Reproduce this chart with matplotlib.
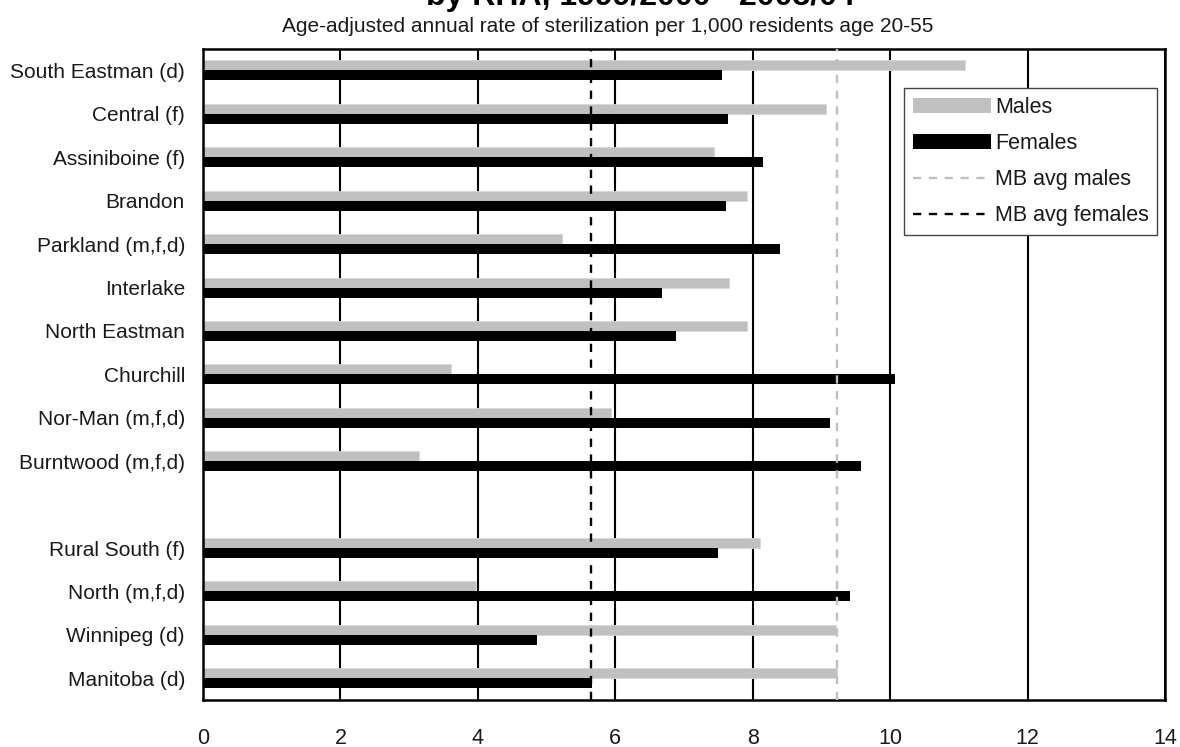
#!/usr/bin/env python3
"""Sterilization rates by RHA - horizontal grouped bar chart."""

import matplotlib
matplotlib.use('Agg')
import matplotlib.pyplot as plt
from matplotlib.patches import Patch
from matplotlib.lines import Line2D
import numpy as np

# Data (rate per 1,000 residents age 20-55); None marks the blank spacer row
regions = ['South Eastman (d)', 'Central (f)', 'Assiniboine (f)', 'Brandon',
           'Parkland (m,f,d)', 'Interlake', 'North Eastman', 'Churchill',
           'Nor-Man (m,f,d)', 'Burntwood (m,f,d)', '',
           'Rural South (f)', 'North (m,f,d)', 'Winnipeg (d)', 'Manitoba (d)']
males = [11.09, 9.07, 7.43, 7.92, 5.22, 7.65, 7.91, 3.61, 5.94, 3.14, None,
         8.10, 3.97, 9.21, 9.23]
females = [7.56, 7.64, 8.15, 7.61, 8.40, 6.68, 6.88, 10.07, 9.12, 9.57, None,
           7.49, 9.41, 4.86, 5.66]
mb_avg_males = 9.23
mb_avg_females = 5.65

OUTPUT_WIDTH = 1180
OUTPUT_HEIGHT = 747
DPI = 100
GRAY = '#c0c0c0'
TEXT = '#1a1a1a'

plt.rcParams['font.family'] = ['Liberation Sans', 'DejaVu Sans']

fig = plt.figure(figsize=(OUTPUT_WIDTH / DPI, OUTPUT_HEIGHT / DPI), dpi=DPI)
fig.patch.set_facecolor('white')
ax = fig.add_axes([0.172, 0.063, 0.8153, 0.8717])

pos = np.arange(len(regions))
bar_h = 0.23
keep = [i for i, m in enumerate(males) if m is not None]
ax.barh(pos[keep] - bar_h / 2, [males[i] for i in keep], height=bar_h,
        color=GRAY, edgecolor='#d9d9d9', linewidth=0.6, zorder=2)
ax.barh(pos[keep] + bar_h / 2, [females[i] for i in keep], height=bar_h,
        color='black', linewidth=0, zorder=2)

# Manitoba averages
ax.axvline(mb_avg_males, color=GRAY, linewidth=1.7, dashes=(3.5, 3.2), zorder=3)
ax.axvline(mb_avg_females, color='black', linewidth=1.7, dashes=(3.5, 3.2), zorder=3)

ax.set_xlim(0, 14)
ax.set_ylim(len(regions) - 0.5, -0.5)
ax.set_xticks(range(0, 15, 2))
ax.set_yticks(pos)
ax.set_yticklabels(regions)
ax.tick_params(axis='y', length=0, pad=13, labelsize=15, labelcolor=TEXT)
ax.tick_params(axis='x', length=0, pad=20, labelsize=15.5, labelcolor=TEXT)

ax.grid(True, axis='x', color='black', linewidth=1.5)
ax.set_axisbelow(True)
for s in ax.spines.values():
    s.set_linewidth(1.8)
    s.set_color('black')

handles = [Patch(facecolor=GRAY, edgecolor='none'),
           Patch(facecolor='black', edgecolor='none'),
           Line2D([], [], color=GRAY, linewidth=1.7, dashes=(3.5, 3.2)),
           Line2D([], [], color='black', linewidth=1.7, dashes=(3.5, 3.2))]
leg = ax.legend(handles, ['Males', 'Females', 'MB avg males', 'MB avg females'],
                loc='upper right', bbox_to_anchor=(0.992, 0.939), borderaxespad=0,
                fontsize=15.5, handlelength=3.6, handletextpad=0.2,
                labelspacing=0.7, borderpad=0.4, fancybox=False,
                framealpha=1, edgecolor='#444444')
leg.get_frame().set_linewidth(1.0)
for t in leg.get_texts():
    t.set_color(TEXT)

# Titles (main title runs off the top of the image)
fig.text(640 / OUTPUT_WIDTH, 1 - 5 / OUTPUT_HEIGHT, 'by RHA, 1999/2000 - 2003/04',
         ha='center', va='baseline', fontsize=23, fontweight='bold')
fig.text(608 / OUTPUT_WIDTH, 1 - 26 / OUTPUT_HEIGHT,
         'Age-adjusted annual rate of sterilization per 1,000 residents age 20-55',
         ha='center', va='center', fontsize=15, color=TEXT)

fig.savefig('out.png', dpi=DPI, facecolor='white')
plt.close(fig)
